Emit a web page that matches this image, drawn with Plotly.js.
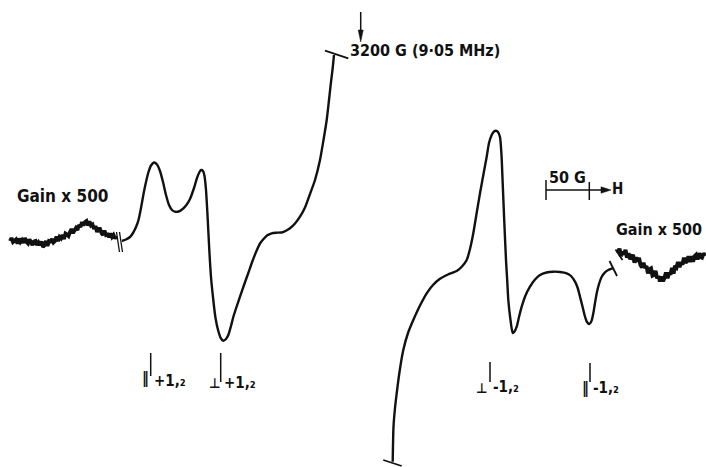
<!DOCTYPE html>
<html>
<head>
<meta charset="utf-8">
<script src="https://cdn.plot.ly/plotly-3.0.1.min.js"></script>
<style>html,body{margin:0;padding:0;background:#fff;}#chart{width:706px;height:467px;}</style>
</head>
<body>
<div id="chart"></div>
<script>
// Low-field wing, gain x 500 (traced from the recording)
const leftNoiseX = [10,11.5,13,14.5,16,17.5,19,20.5,22,23.5,25,26.5,28,29.5,31,32.5,34,35.5,37,38.5,40,41.5,43,44.5,46,47.5,49,50.5,52,53.5,55,56.5,58,59.5,61,62.5,64,65.5,67,68.5,70,71.5,73,74.5,76,77.5,79,80.5,82,83.5,85,86.5,88,89.5,91,92.5,94,95.5,97,98.5,100,101.5,103,104.5,106,107.5,109,110.5,112,113.5,115,116.5];
const leftNoiseY = [241,238,242,240.5,239.5,243.5,238.5,242,240,243,238,242,243.5,239.5,242,245,241.5,241,245,242.5,245,241.5,247,245,241,246,241,241.5,239,242.5,241,236.5,241,237,238.5,235,239,233.5,234.5,236,232,229,233,231,228,230,225,227,222,225.5,222,221,225.5,221.5,225.5,224.5,229,226,232,229,229,233,235,230.5,235,234.5,237,233.5,237,235,238.5,236];

// Main spectrum, first half (ends at the 3200 G mark)
const leftX = [122,126,130,133,136,138.5,141,143.5,146,148.5,151,154,157,160,163,166,169,172,175,178.5,182,186,190,194,197,199.5,201,203,204.5,206,207.5,209.3,211,213.3,215.5,218.3,221,223.3,226,228.3,231,233.3,236.5,240,244,248.3,252.5,256.7,260,263.3,267,271.7,276,281.7,286,290,295,300,305,310,315,320,323.5,326.7,329,331,332.7,334];
const leftY = [241,239.5,237,233,227,220,208,194,182,172,165.5,162.5,164.5,171,182,195,205,210,211.7,211.5,209.5,205.5,199,188,178,172,170,171,176,190,215,250,277,300,318,331,338.5,340.7,339,335,326,317,307,296.7,285,273,261,250.5,243.5,239.3,235.5,233.3,232.7,232.5,230.8,228.3,223.5,216.7,207.5,194,180,160,140,120,100,82,68,55];

// Main spectrum, second half
const rightX = [392.7,393,393.5,395,396.7,399.5,403.3,408,413.3,420,426.7,433,440,448,456.7,462,466.7,470,473.3,476.5,480,483.5,486.7,489,491.7,494,496,498,500,501.5,502.7,504.3,506,507.3,508.3,510.5,512.7,514.5,516.7,519,521.7,525.5,530,535,540,546.5,553.3,560,566.7,571,575,577.7,580,582.5,585,587,589.3,591.5,593.3,595,596.7,599,601.7,605,608.3,611,613];
const rightY = [461.7,445,426.7,408,393.3,372,350,333,320,305.5,293.3,285,278.8,274.5,271,266.5,260,249,233.3,214,193.3,174,156.7,143,135,131.5,130.7,132,137,155,183.3,222,260,282,300,320,333,331.5,326.7,317,306.7,295.5,286.7,279.5,275,272.5,271.7,272,273.3,276,281.7,288,296.7,306.5,316.7,322,324,321,313.3,303,293.3,284,276.7,272.3,270,268.8,268.3];

// High-field wing, gain x 500
const rightNoiseX = [618,619.5,621,622.5,624,625.5,627,628.5,630,631.5,633,634.5,636,637.5,639,640.5,642,643.5,645,646.5,648,649.5,651,652.5,654,655.5,657,658.5,660,661.5,663,664.5,666,667.5,669,670.5,672,673.5,675,676.5,678,679.5,681,682.5,684,685.5,687,688.5,690,691.5,693,694.5,696,697.5,699,700.5,702,703.5,705];
const rightNoiseY = [253,248.6,256.2,251.8,254.4,250,257.6,253.3,259.1,257,254.8,262.6,257.4,261.4,257.8,265.1,267.4,262.7,268,266.1,273.3,269.4,268.5,275.6,274.8,271,278.1,276.3,281.4,276.6,281.1,277.8,272.5,278.2,272.9,274.5,268,273.5,266,267.5,262,267.2,262.3,264.5,257.7,262.8,261,256.4,261.9,256.3,261.8,256.2,254.8,259.5,253.2,256.9,257.6,253.3,256];

// Text labels
const gainLabel = "Gain x 500";
const fieldLabel = "3200 G (9·05 MHz)";
const scaleLabel = "50 G";
const fieldDirLabel = "H";
const parSym = "\u2016";
const perpSym = "\u22A5";
const plusHalf = "+1,\u2082";
const minusHalf = "-1,\u2082";

const ink = "#111";
const lab = {family: "Liberation Sans Narrow, DejaVu Sans Condensed, DejaVu Sans, sans-serif", size: 16, color: ink, weight: 700};

const traces = [
  {x: leftNoiseX, y: leftNoiseY, mode: "lines", line: {color: ink, width: 3.8}, hoverinfo: "skip"},
  {x: leftX, y: leftY, mode: "lines", line: {color: ink, width: 2.4, shape: "spline", smoothing: 0.6}, hoverinfo: "skip"},
  {x: rightX, y: rightY, mode: "lines", line: {color: ink, width: 2.4, shape: "spline", smoothing: 0.6}, hoverinfo: "skip"},
  {x: rightNoiseX, y: rightNoiseY, mode: "lines", line: {color: ink, width: 4}, hoverinfo: "skip"}
];

function seg(x0, y0, x1, y1, w) {
  return {type: "line", xref: "x", yref: "y", x0: x0, y0: y0, x1: x1, y1: y1, line: {color: ink, width: w || 1.6}};
}
function tri(path) {
  return {type: "path", xref: "x", yref: "y", path: path, fillcolor: ink, line: {color: ink, width: 0.5}};
}

const shapes = [
  // break marks
  seg(116.5, 232, 119.5, 252, 1.3), seg(119.5, 232, 122.5, 252, 1.3),
  seg(609.5, 261, 617, 276, 1.8), seg(615.5, 249.5, 622.5, 260, 1.8),
  // end caps
  seg(325, 50.7, 348.3, 58.3, 1.8),
  seg(383.3, 460, 401.7, 466, 1.8),
  // 3200 G marker arrow
  seg(360.7, 12, 360.7, 32, 1.5), tri("M 358.2 30 L 363.2 30 L 360.7 42 Z"),
  // scale bar and field direction arrow
  seg(546, 190, 589.3, 190, 1.5), seg(546, 180, 546, 200, 1.5), seg(589.3, 182, 589.3, 200, 1.5),
  seg(589.3, 190, 603, 190, 1.5), tri("M 601 186.8 L 601 193.2 L 611 190 Z"),
  // label stems
  seg(150.7, 353, 150.7, 376, 1.5),
  seg(220.7, 353, 220.7, 382, 1.5),
  seg(490, 362, 490, 382, 1.5),
  seg(590, 363, 590, 382, 1.5)
];

function txt(x, y, t, anchor, size) {
  const f = Object.assign({}, lab);
  if (size) f.size = size;
  return {x: x, y: y, xref: "x", yref: "y", text: t, showarrow: false, xanchor: anchor || "center", yanchor: "middle", font: f};
}

const annotations = [
  txt(62, 196, gainLabel, "center", 17),
  txt(704, 229, gainLabel, "right", 16),
  txt(348, 50, fieldLabel, "left", 16),
  txt(567, 177, scaleLabel, "center", 16),
  txt(617, 189, fieldDirLabel, "center", 15),
  txt(145, 378, parSym, "center", 15),
  txt(152, 381, plusHalf, "left", 15),
  txt(215, 383, perpSym, "center", 14),
  txt(222, 383, plusHalf, "left", 15),
  txt(482, 388, perpSym, "center", 14),
  txt(491, 387, minusHalf, "left", 15),
  txt(585, 388, parSym, "center", 15),
  txt(591, 388, minusHalf, "left", 15)
];

const layout = {
  width: 706, height: 467,
  margin: {l: 0, r: 0, t: 0, b: 0, pad: 0},
  paper_bgcolor: "#fff", plot_bgcolor: "#fff",
  showlegend: false,
  xaxis: {range: [0, 706], visible: false, fixedrange: true},
  yaxis: {range: [467, 0], visible: false, fixedrange: true},
  shapes: shapes,
  annotations: annotations
};

Plotly.newPlot("chart", traces, layout, {staticPlot: true, displayModeBar: false});
</script>
</body>
</html>
